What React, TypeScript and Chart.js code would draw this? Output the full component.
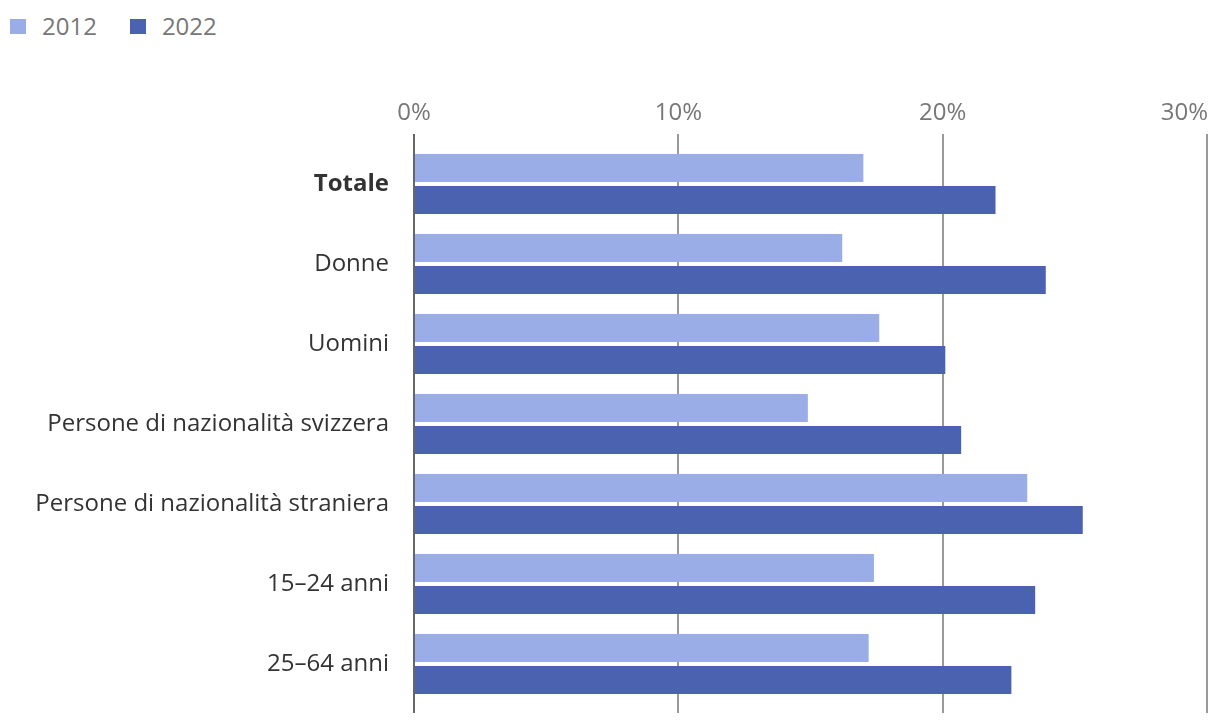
import React, { useEffect, useRef } from "react";
import { Chart, registerables } from "chart.js";

Chart.register(...registerables);

const categories = [
  "Totale",
  "Donne",
  "Uomini",
  "Persone di nazionalità svizzera",
  "Persone di nazionalità straniera",
  "15–24 anni",
  "25–64 anni",
];
const values2012 = [17.0, 16.2, 17.6, 14.9, 23.2, 17.4, 17.2];
const values2022 = [22.0, 23.9, 20.1, 20.7, 25.3, 23.5, 22.6];
const seriesLabels = ["2012", "2022"];
const seriesColors = ["#9aade6", "#4a62b0"];
const xTickValues = [0, 10, 20, 30];

const FONT = "'Open Sans', 'Noto Sans', sans-serif";

const topLabels = {
  id: "topLabels",
  afterDraw(chart: any) {
    const s = chart.scales.x;
    const ctx = chart.ctx;
    ctx.save();
    ctx.font = `24px ${FONT}`;
    ctx.fillStyle = "#777777";
    ctx.textBaseline = "alphabetic";
    s.ticks.forEach((t: any, i: number) => {
      const x = s.getPixelForTick(i);
      const label = `${t.value}%`;
      const w = ctx.measureText(label).width;
      if (x + w / 2 > chart.width) {
        ctx.textAlign = "right";
        ctx.fillText(label, x + 1, s.top - 14);
      } else {
        ctx.textAlign = "center";
        ctx.fillText(label, x, s.top - 14);
      }
    });
    ctx.restore();
  },
};

export default function App() {
  const ref = useRef<HTMLCanvasElement>(null);
  useEffect(() => {
    const gridColor = (c: any) => (c.tick && c.tick.value === 0 ? "#666666" : "#999999");
    const chart = new Chart(ref.current as HTMLCanvasElement, {
      type: "bar",
      data: {
        labels: categories,
        datasets: [
          {
            label: seriesLabels[0],
            data: values2012,
            backgroundColor: seriesColors[0],
            categoryPercentage: 0.8,
            barPercentage: 0.875,
          },
          {
            label: seriesLabels[1],
            data: values2022,
            backgroundColor: seriesColors[1],
            categoryPercentage: 0.8,
            barPercentage: 0.875,
          },
        ],
      },
      options: {
        indexAxis: "y",
        animation: false,
        responsive: false,
        maintainAspectRatio: false,
        layout: { padding: { top: 134, bottom: 13, left: 0, right: 13 } },
        plugins: {
          legend: { display: false },
          tooltip: { enabled: false },
        },
        scales: {
          x: {
            position: "top",
            min: 0,
            max: 30,
            afterBuildTicks: (s: any) => {
              s.ticks = xTickValues.map((v) => ({ value: v }));
            },
            ticks: { display: false },
            grid: { color: gridColor, lineWidth: 2, tickLength: 10, drawTicks: true },
            border: { display: false },
          },
          x2: {
            position: "bottom",
            min: 0,
            max: 30,
            afterBuildTicks: (s: any) => {
              s.ticks = xTickValues.map((v) => ({ value: v }));
            },
            ticks: { display: false },
            grid: { color: gridColor, lineWidth: 2, tickLength: 9, drawOnChartArea: false, drawTicks: true },
            border: { display: false },
          },
          y: {
            afterFit: (s: any) => {
              s.width = 414;
              s.paddingTop = 0;
              s.paddingBottom = 0;
            },
            grid: { display: false, drawTicks: false },
            border: { display: false },
            ticks: {
              padding: 25,
              color: "#333333",
              font: (c: any) => ({
                family: FONT,
                size: 24,
                weight: c.index === 0 ? "bold" : "normal",
              }),
            },
          },
        },
      },
      plugins: [topLabels],
    } as any);
    return () => chart.destroy();
  }, []);

  return (
    <div style={{ position: "fixed", left: 0, top: 0, width: 1220, height: 726, background: "#fff" }}>
      <div
        style={{
          position: "absolute",
          left: 10,
          top: 9,
          display: "flex",
          alignItems: "center",
          fontFamily: FONT,
          fontSize: 24,
          color: "#777777",
          lineHeight: "34px",
        }}
      >
        {seriesLabels.map((l, i) => (
          <div key={l} style={{ display: "flex", alignItems: "center", marginRight: 33 }}>
            <span style={{ display: "inline-block", width: 16, height: 15, background: seriesColors[i], marginRight: 16 }} />
            <span>{l}</span>
          </div>
        ))}
      </div>
      <canvas ref={ref} width={1220} height={726} style={{ position: "absolute", left: 0, top: 0 }} />
    </div>
  );
}
